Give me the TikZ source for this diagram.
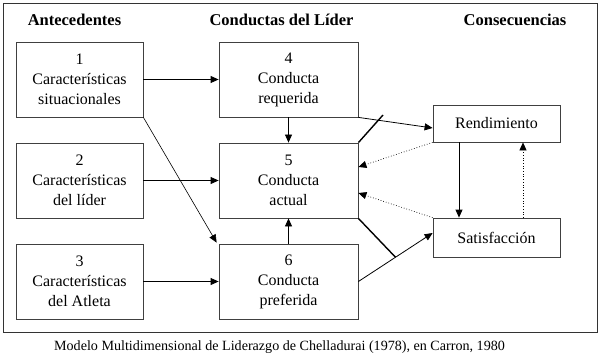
\documentclass[tikz,border=0pt]{standalone}
\usepackage{fontspec}
\setmainfont{Liberation Serif}
\usetikzlibrary{arrows.meta,calc}
\begin{document}
\begin{tikzpicture}[x=1pt,y=-1pt,
  box/.style={draw=black!75,line width=0.8pt,inner sep=0pt,align=center,font=\fontsize{16}{20}\selectfont},
  big/.style={box,minimum width=139pt,minimum height=75pt},
  small/.style={box,minimum width=127pt,minimum height=75pt},
  cons/.style={box,minimum width=127pt},
  head/.style={font=\fontsize{16.5}{20}\selectfont\bfseries},
  arr/.style={line width=0.8pt,-{Triangle[length=8pt,width=7pt]}},
  darr/.style={line width=0.7pt,dotted,-{Triangle[length=8pt,width=7pt]}},
  thick line/.style={line width=1.4pt}]
\useasboundingbox (0,0) rectangle (601,358);
\draw[line width=0.8pt,black!80] (3,3) rectangle (597.5,332);
\node[head] (h1) at (74.5,20) {Antecedentes};
\node[head] (h2) at (281.5,20) {Conductas del Líder};
\node[head] (h3) at (515,20) {Consecuencias};
\node[small] (b1) at (79.5,79.5) {1\\Características\\situacionales};
\node[small] (b2) at (79.5,180.5) {2\\Características\\del líder};
\node[small] (b3) at (79.5,281.5) {3\\Características\\del Atleta};
\node[big] (b4) at (288.5,79.5) {4\\Conducta\\requerida};
\node[big] (b5) at (288.5,180.5) {5\\Conducta\\actual};
\node[big] (b6) at (288.5,281.5) {6\\Conducta\\preferida};
\node[cons,minimum height=37pt] (rend) at (496.5,123.5) {Rendimiento};
\node[cons,minimum height=39pt] (satis) at (496.5,237.5) {Satisfacción};
\node[font=\fontsize{14.1}{16}\selectfont] (cap) at (279.5,347) {Modelo Multidimensional de Liderazgo de Chelladurai (1978), en Carron, 1980};
\draw[arr] (b1.east) -- (b4.west);
\draw[arr] (b2.east) -- (b5.west);
\draw[arr] (b3.east) -- (b6.west);
\draw[arr] (b4.south) -- (b5.north);
\draw[arr] (b6.north) -- (b5.south);
\draw[arr,line width=0.6pt] (b1.south east) -- ([xshift=-2pt,yshift=1pt]b6.north west);
\draw[arr] (b4.south east) -- ([yshift=-4.5pt]rend.west);
\coordinate (t1) at (383,115);
\draw[thick line] (b5.north east) -- (t1);
\coordinate (sin) at ([yshift=4.5pt]satis.west);
\draw[arr] (b6.east) -- (sin);
\draw[thick line] (b5.south east) -- ($(b6.east)!0.5!(sin)$);
\draw[arr] ([xshift=-37.5pt]rend.south) -- ([xshift=-37.5pt]satis.north);
\draw[darr] ([xshift=26.5pt]satis.north) -- ([xshift=26.5pt]rend.south);
\draw[darr] (rend.south west) -- ([yshift=13.5pt]b5.east);
\draw[darr] (satis.north west) -- ([yshift=-12.5pt]b5.east);
\end{tikzpicture}
\end{document}
